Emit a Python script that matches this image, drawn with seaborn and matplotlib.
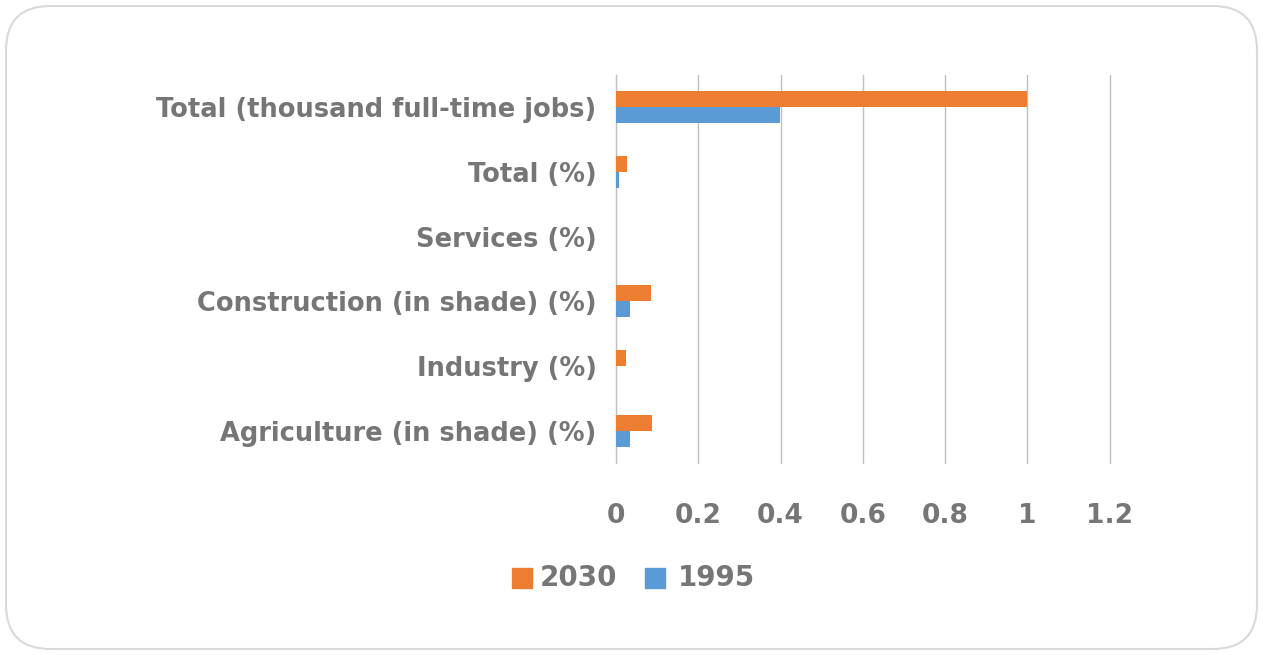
import pandas as pd
import matplotlib.pyplot as plt
import seaborn as sns
from matplotlib.patches import FancyBboxPatch

# data
categories = ["Total (thousand full-time jobs)", "Total (%)", "Services (%)",
              "Construction (in shade) (%)", "Industry (%)", "Agriculture (in shade) (%)"]
values_2030 = [1.0, 0.027, 0.0, 0.085, 0.024, 0.087]
values_1995 = [0.398, 0.007, 0.0, 0.034, 0.0, 0.034]
years = ["2030", "1995"]
x_ticks = [0, 0.2, 0.4, 0.6, 0.8, 1, 1.2]
x_tick_labels = ["0", "0.2", "0.4", "0.6", "0.8", "1", "1.2"]

df = pd.DataFrame({
    "category": categories * 2,
    "value": values_2030 + values_1995,
    "year": [years[0]] * len(categories) + [years[1]] * len(categories),
})

sns.set_style("white")
plt.rcParams["font.family"] = ["DejaVu Sans"]
grey = "#767676"

fig = plt.figure(figsize=(12.63, 6.55), dpi=100)
ax = fig.add_axes([0.4877, 0.293, 0.391, 0.593])

sns.barplot(data=df, y="category", x="value", hue="year", hue_order=years,
            order=categories, palette={"2030": "#ed7d31", "1995": "#5b9bd5"},
            width=0.5, orient="h", ax=ax, legend=False, saturation=1, linewidth=0)

ax.set_xlim(0, 1.2)
ax.set_ylim(len(categories) - 0.5, -0.5)
ax.set_xticks(x_ticks)
ax.set_xticklabels(x_tick_labels, fontsize=19, fontweight="bold", color=grey)
ax.tick_params(axis="x", length=0, pad=29)
ax.tick_params(axis="y", length=0, pad=14)
for lbl in ax.get_yticklabels():
    lbl.set_fontsize(18.5)
    lbl.set_fontweight("bold")
    lbl.set_color(grey)
ax.set_xlabel("")
ax.set_ylabel("")
for s in ax.spines.values():
    s.set_visible(False)
ax.grid(axis="x", color="#bfbfbf", linewidth=1)
ax.grid(axis="y", visible=False)
for gl in ax.get_xgridlines():
    gl.set_clip_on(False)
ax.axvline(0, color="#a6a6a6", linewidth=1.5, zorder=0)
ax.set_axisbelow(True)

# legend
fig.patches.append(plt.Rectangle((512 / 1263, 1 - 588 / 655), 20 / 1263, 20 / 655,
                                 transform=fig.transFigure, color="#ed7d31"))
fig.text(540 / 1263, 1 - 578 / 655, "2030", fontsize=20, fontweight="bold",
         color=grey, va="center", ha="left")
fig.patches.append(plt.Rectangle((645 / 1263, 1 - 588 / 655), 20 / 1263, 20 / 655,
                                 transform=fig.transFigure, color="#5b9bd5"))
fig.text(678 / 1263, 1 - 578 / 655, "1995", fontsize=20, fontweight="bold",
         color=grey, va="center", ha="left")

# rounded frame
frame = FancyBboxPatch((6 / 1263, 6 / 655), 1251 / 1263, 643 / 655,
                       boxstyle="round,pad=0,rounding_size=0.035",
                       transform=fig.transFigure, facecolor="none",
                       edgecolor="#d9d9d9", linewidth=1.5, mutation_aspect=1263 / 655)
fig.patches.append(frame)

plt.savefig("out.png", dpi=100)
